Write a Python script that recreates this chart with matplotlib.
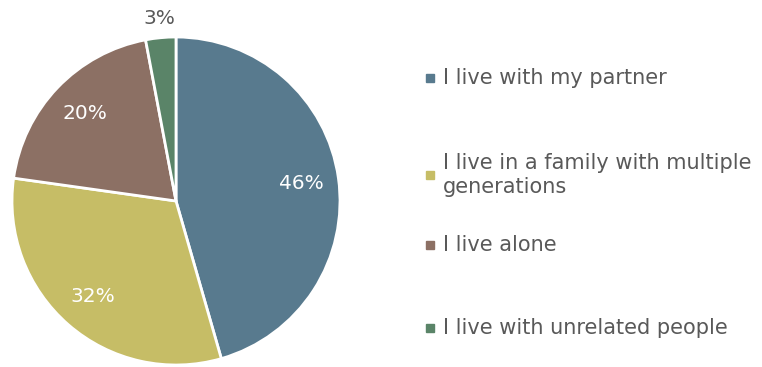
import matplotlib.pyplot as plt
import matplotlib.patches as mpatches
import numpy as np

plt.rcParams['font.family'] = ['DejaVu Sans']

# data
labels = ["I live with my partner",
          "I live in a family with multiple\ngenerations",
          "I live alone",
          "I live with unrelated people"]
values = [46, 32, 20, 3]
pct_text = ["46%", "32%", "20%", "3%"]
colors = ["#587a8e", "#c6bd66", "#8c7064", "#5a8468"]

txt_gray = "#595959"

fig = plt.figure(figsize=(7.62, 3.67), dpi=100)
ax = fig.add_axes([12/762, 2/367, 328/762, 328/367])

wedges, _ = ax.pie(values, colors=colors, startangle=90, counterclock=False,
                   wedgeprops=dict(edgecolor="white", linewidth=2))
ax.set_xlim(-1, 1)
ax.set_ylim(-1, 1)

# percent labels
for i, w in enumerate(wedges):
    mid = np.deg2rad((w.theta1 + w.theta2) / 2)
    if i == 3:
        r, c = 1.12, txt_gray
    else:
        r, c = 0.77, "white"
    ax.text(r*np.cos(mid), r*np.sin(mid), pct_text[i], ha="center", va="center",
            fontsize=14.5, color=c)

# legend drawn by hand
leg_y = [78, 175, 245, 328]
for i in range(4):
    y = 1 - leg_y[i]/367
    fig.patches.append(mpatches.Rectangle((426/762, y - 4/367), 8/762, 8/367,
                                          transform=fig.transFigure, color=colors[i]))
    fig.text(443/762, y, labels[i], ha="left", va="center", fontsize=15,
             color=txt_gray, linespacing=1.3)

plt.savefig("out.png", dpi=100)
